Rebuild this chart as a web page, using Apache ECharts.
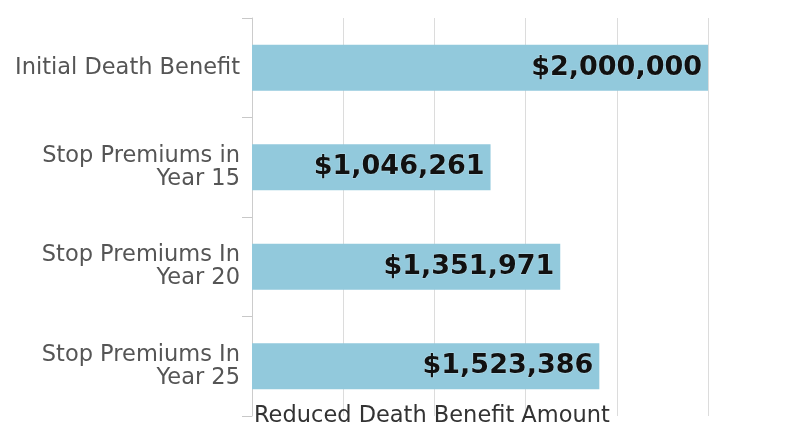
<!DOCTYPE html>
<html>
<head>
<meta charset="utf-8">
<script src="https://cdn.jsdelivr.net/npm/echarts@6/dist/echarts.min.js"></script>
<style>
html,body{margin:0;padding:0;background:#fff;}
#chart{width:788px;height:428px;}
</style>
</head>
<body>
<div id="chart"></div>
<script>
const categories = ["Initial Death Benefit", "Stop Premiums in\nYear 15", "Stop Premiums In\nYear 20", "Stop Premiums In\nYear 25"];
const values = [2000000, 1046261, 1351971, 1523386];
const axisName = "Reduced Death Benefit Amount";

const chart = echarts.init(document.getElementById('chart'), null, {renderer: 'canvas'});
const fmt = v => '$' + v.toLocaleString('en-US');
chart.setOption({
  animation: false,
  backgroundColor: '#ffffff',
  grid: {left: 252, right: 80, top: 18, bottom: 12, containLabel: false},
  xAxis: {
    type: 'value',
    min: 0,
    max: 2000000,
    interval: 400000,
    axisLine: {show: false},
    axisTick: {show: false},
    axisLabel: {show: false},
    splitLine: {show: true, lineStyle: {color: '#dcdcdc', width: 1}},
    name: axisName,
    nameLocation: 'start',
    nameGap: -2,
    nameTextStyle: {
      align: 'left',
      verticalAlign: 'middle',
      fontFamily: 'DejaVu Sans',
      fontSize: 22.5,
      color: '#333333',
      padding: [9, 0, 0, 0]
    }
  },
  yAxis: {
    type: 'category',
    inverse: true,
    data: categories,
    axisLine: {show: true, lineStyle: {color: '#cccccc', width: 1}},
    axisTick: {show: true, length: 10, lineStyle: {color: '#c8c8c8'}},
    axisLabel: {
      margin: 12,
      fontFamily: 'DejaVu Sans',
      fontSize: 22.5,
      lineHeight: 23,
      color: '#555555',
      align: 'right'
    },
    splitLine: {show: false}
  },
  series: [{
    type: 'bar',
    data: values,
    barWidth: 46,
    itemStyle: {color: '#92c9dc'},
    label: {
      show: true,
      position: 'insideRight',
      distance: 6,
      formatter: p => fmt(p.value),
      fontFamily: 'DejaVu Sans',
      fontWeight: 'bold',
      fontSize: 27,
      color: '#111111',
      textBorderColor: 'rgba(255,255,255,0.35)',
      textBorderWidth: 1
    }
  }]
});
</script>
</body>
</html>
